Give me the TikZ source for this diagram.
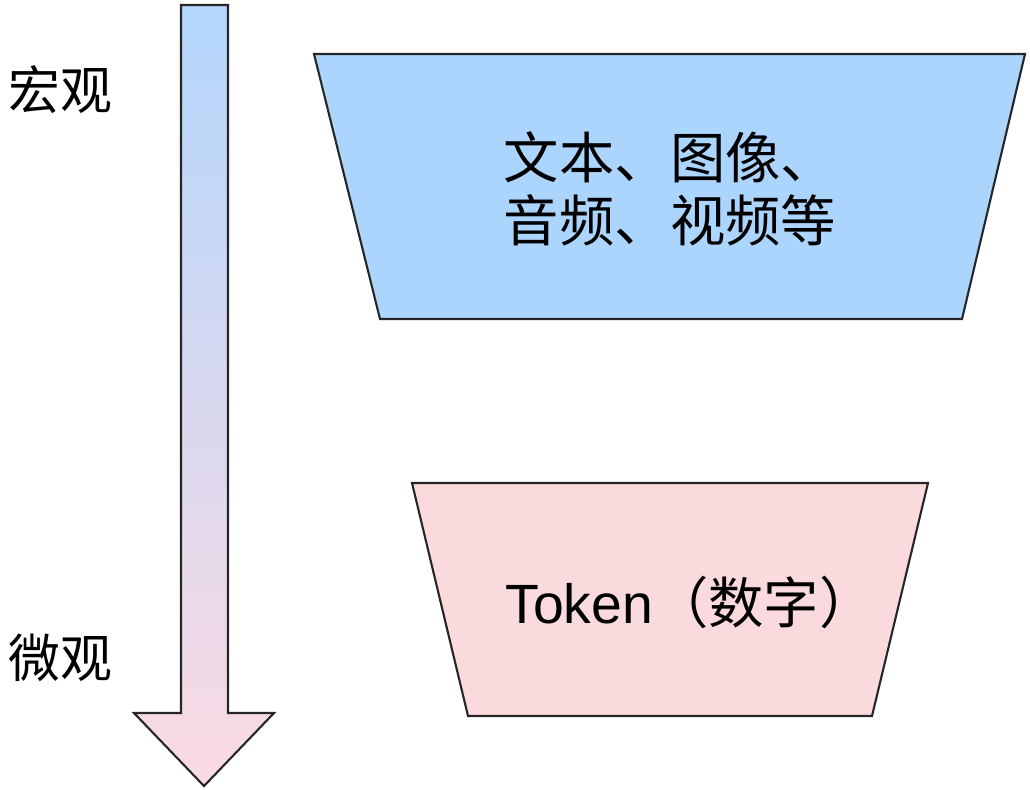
\documentclass[tikz,border=0pt]{standalone}
\usepackage{fontspec}
\setmainfont{Liberation Sans}
\newfontfamily\cjk{Noto Sans CJK SC}
\definecolor{boxblue}{HTML}{ACD5FD}
\definecolor{boxpink}{HTML}{FADADD}
\definecolor{arrowtop}{HTML}{B3D6FC}
\definecolor{arrowmid}{HTML}{DCD6F8}
\definecolor{arrowbot}{HTML}{FBDAE3}
\tikzset{
  funnel/.style={draw=black!85, line width=1.2pt, line join=miter},
  label/.style={font=\cjk\fontsize{29.5}{35}\selectfont, inner sep=0pt, align=center},
  biglabel/.style={label, font=\cjk\fontsize{31.5}{35.5}\selectfont},
}

\begin{document}
\begin{tikzpicture}[x=0.02cm, y=-0.02cm]
          \useasboundingbox (0,0) rectangle (1030,789);

          % scale arrow
          \draw [funnel, top color=arrowtop, middle color=arrowmid, bottom color=arrowbot]
            (181,5) -- (228,5) -- (228,713) -- (274,713) -- (204,786)
            -- (134,713) -- (181,713) -- cycle;
          \node (macro) [label] at (60,90) {宏观};
          \node (micro) [label] at (60,658) {微观};

          % funnels
          \draw [funnel, fill=boxblue] (314,54) -- (1025,54) -- (962,319) -- (380,319) -- cycle;
          \draw [funnel, fill=boxpink] (412,483) -- (928,483) -- (872,716) -- (468,716) -- cycle;

          \node (media) [biglabel] at (670,189) {文本、图像、\\音频、视频等};
          \node (token) [biglabel] at (690,602) {{\fontspec{Liberation Sans}Token}（数字）};
        \end{tikzpicture}
\end{document}
